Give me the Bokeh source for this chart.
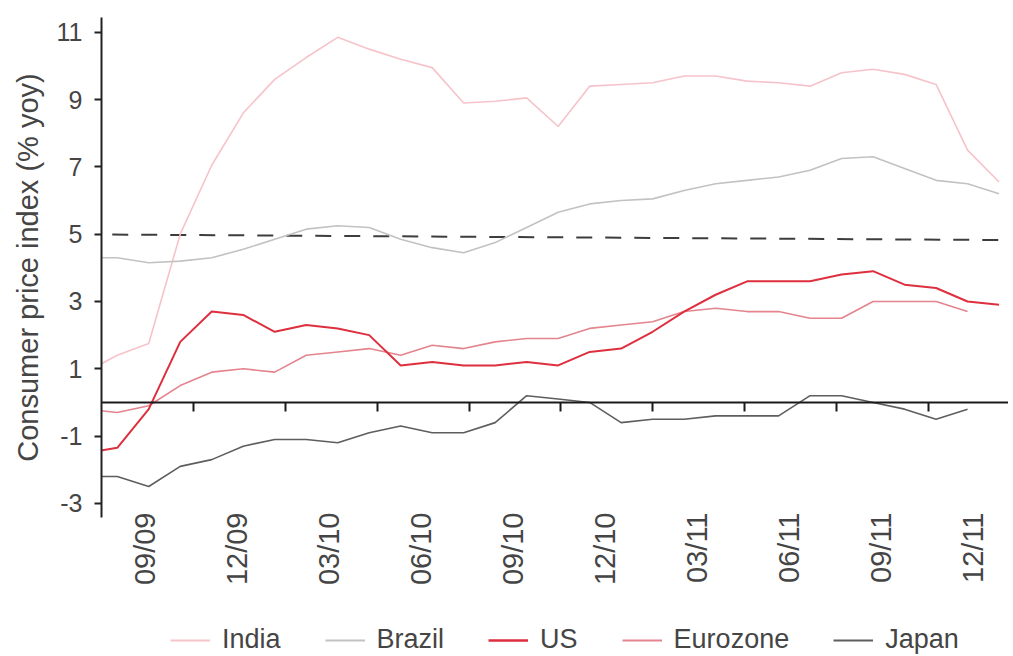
import math
import numpy as np
from bokeh.plotting import figure
from bokeh.layouts import column
from bokeh.models import (Range1d, LinearAxis, FixedTicker, Legend, LegendItem,
                          ColumnDataSource, CustomJSTickFormatter)
from bokeh.embed import file_html
from bokeh.resources import INLINE

# ---------------- data (monthly, Aug 2009 .. Jan 2012) ----------------
months = ["08/09", "09/09", "10/09", "11/09", "12/09",
          "01/10", "02/10", "03/10", "04/10", "05/10", "06/10",
          "07/10", "08/10", "09/10", "10/10", "11/10", "12/10",
          "01/11", "02/11", "03/11", "04/11", "05/11", "06/11",
          "07/11", "08/11", "09/11", "10/11", "11/11", "12/11", "01/12"]

india = [0.9, 1.4, 1.75, 5.0, 7.05, 8.6, 9.6, 10.25, 10.85, 10.5, 10.2,
         9.95, 8.9, 8.95, 9.05, 8.2, 9.4, 9.45, 9.5, 9.7, 9.7, 9.55,
         9.5, 9.4, 9.8, 9.9, 9.75, 9.45, 7.5, 6.55]
brazil = [4.3, 4.3, 4.15, 4.2, 4.3, 4.55, 4.85, 5.15, 5.25, 5.2, 4.85,
          4.6, 4.45, 4.75, 5.2, 5.65, 5.9, 6.0, 6.05, 6.3, 6.5, 6.6,
          6.7, 6.9, 7.25, 7.3, 6.95, 6.6, 6.5, 6.2]
us = [-1.5, -1.35, -0.2, 1.8, 2.7, 2.6, 2.1, 2.3, 2.2, 2.0, 1.1,
      1.2, 1.1, 1.1, 1.2, 1.1, 1.5, 1.6, 2.1, 2.7, 3.2, 3.6,
      3.6, 3.6, 3.8, 3.9, 3.5, 3.4, 3.0, 2.9]
eurozone = [-0.2, -0.3, -0.1, 0.5, 0.9, 1.0, 0.9, 1.4, 1.5, 1.6, 1.4,
            1.7, 1.6, 1.8, 1.9, 1.9, 2.2, 2.3, 2.4, 2.7, 2.8, 2.7,
            2.7, 2.5, 2.5, 3.0, 3.0, 3.0, 2.7, None]
japan = [-2.2, -2.2, -2.5, -1.9, -1.7, -1.3, -1.1, -1.1, -1.2, -0.9, -0.7,
         -0.9, -0.9, -0.6, 0.2, 0.1, 0.0, -0.6, -0.5, -0.5, -0.4, -0.4,
         -0.4, 0.2, 0.2, 0.0, -0.2, -0.5, -0.2, None]

# reference (dashed) line: start and end value
ref_months = ["07/09", "02/12"]
ref_values = [5.0, 4.82]

tick_labels = ["09/09", "12/09", "03/10", "06/10", "09/10",
               "12/10", "03/11", "06/11", "09/11", "12/11"]
y_ticks = [-3, -1, 1, 3, 5, 7, 9, 11]

# ---------------- layout helpers ----------------
x = np.arange(len(months)) - 1.0          # Sep 2009 -> 0
ref_x = [-2.0, 29.0]
label_pos = [0.88 + 2.92 * i for i in range(len(tick_labels))]
tickmark_pos = [2.41 + 2.92 * i for i in range(len(tick_labels) - 1)]

def arr(v):
    return np.array([np.nan if a is None else a for a in v], dtype=float)

FONT = "Liberation Sans"
TXT = "#454545"

p = figure(frame_width=907, frame_height=500,
           x_range=Range1d(-0.5, 28.3), y_range=Range1d(-3.42, 11.44),
           output_backend="svg", toolbar_location=None,
           min_border_left=101, min_border_right=0, min_border_top=17,
           min_border_bottom=106)
p.outline_line_color = None
p.xgrid.visible = False
p.ygrid.visible = False
p.background_fill_color = "white"

# y axis
ya = p.yaxis[0]
ya.ticker = FixedTicker(ticks=y_ticks)
ya.formatter = CustomJSTickFormatter(code="return tick.toString();")
ya.axis_line_width = 2
ya.axis_line_color = "#222222"
ya.major_tick_line_width = 2
ya.major_tick_line_color = "#222222"
ya.major_tick_out = 7
ya.major_tick_in = 0
ya.minor_tick_line_color = None
ya.major_label_text_font = FONT
ya.major_label_text_font_size = "25px"
ya.major_label_text_color = TXT
ya.major_label_standoff = 12
ya.axis_label = "Consumer price index (% yoy)"
ya.axis_label_text_font = FONT
ya.axis_label_text_font_size = "29px"
ya.axis_label_text_font_style = "normal"
ya.axis_label_text_color = TXT
ya.axis_label_standoff = 10

# x axis: labels only
xa = p.xaxis[0]
xa.ticker = FixedTicker(ticks=label_pos)
xa.formatter = CustomJSTickFormatter(args=dict(pos=label_pos, labs=tick_labels), code="""
let best = 0, d = 1e9;
for (let i = 0; i < pos.length; i++) { const e = Math.abs(pos[i] - tick); if (e < d) { d = e; best = i; } }
return labs[best];
""")
xa.axis_line_color = None
xa.major_tick_line_color = None
xa.major_tick_out = 0
xa.major_tick_in = 0
xa.minor_tick_line_color = None
xa.minor_tick_out = 0
xa.major_label_orientation = math.pi / 2
xa.major_label_standoff = -5
xa.major_label_text_font = FONT
xa.major_label_text_font_size = "29px"
xa.major_label_text_color = TXT

# zero line with tick marks (axis crossing at y = 0)
za = LinearAxis(fixed_location=0, ticker=FixedTicker(ticks=tickmark_pos),
                formatter=CustomJSTickFormatter(code="return '';"))
za.axis_line_width = 2
za.axis_line_color = "#1a1a1a"
za.major_tick_line_width = 2
za.major_tick_line_color = "#1a1a1a"
za.major_tick_out = 0
za.major_tick_in = 9
za.minor_tick_line_color = None
za.major_label_text_font_size = "1px"
za.major_label_standoff = 0
p.add_layout(za, "above")

# reference dashed line
p.line(ref_x, ref_values, line_color="#3d3d3d", line_width=2, line_dash="16 13")

series = [
    ("India", india, "#F6C3CA", 1.6),
    ("Brazil", brazil, "#C2C2C2", 1.6),
    ("Eurozone", eurozone, "#E4848D", 1.6),
    ("US", us, "#DE2F3E", 2.0),
    ("Japan", japan, "#5E5E5E", 1.6),
]
for name, vals, col, w in series:
    src = ColumnDataSource(dict(x=x, y=arr(vals)))
    p.line("x", "y", source=src, line_color=col, line_width=w)

# ---------------- legend strip (own small figure below the chart) ----------------
lg = figure(width=1008, height=32, output_backend="svg", toolbar_location=None,
            x_axis_location=None, y_axis_location=None,
            x_range=Range1d(0, 1), y_range=Range1d(0, 1),
            min_border=0)
lg.outline_line_color = None
lg.xgrid.visible = False
lg.ygrid.visible = False
items = []
for name in ["India", "Brazil", "US", "Eurozone", "Japan"]:
    _, _, col, w = [s for s in series if s[0] == name][0]
    # legend-key renderer (its data lies outside the strip's visible range)
    r = lg.line(x=[2, 3], y=[0.5, 0.5], line_color=col, line_width=w + 0.6)
    items.append(LegendItem(label=name, renderers=[r]))
legend = Legend(items=items, orientation="horizontal", location=(69, 0))
legend.label_text_font = FONT
legend.label_text_font_size = "27px"
legend.label_text_color = TXT
legend.glyph_width = 40
legend.glyph_height = 20
legend.label_standoff = 12
legend.spacing = 44
legend.padding = 0
legend.margin = 0
legend.border_line_color = None
legend.background_fill_alpha = 0
lg.add_layout(legend)

layout = column(p, lg, spacing=0)
open("out.html", "w").write(file_html(layout, INLINE))
